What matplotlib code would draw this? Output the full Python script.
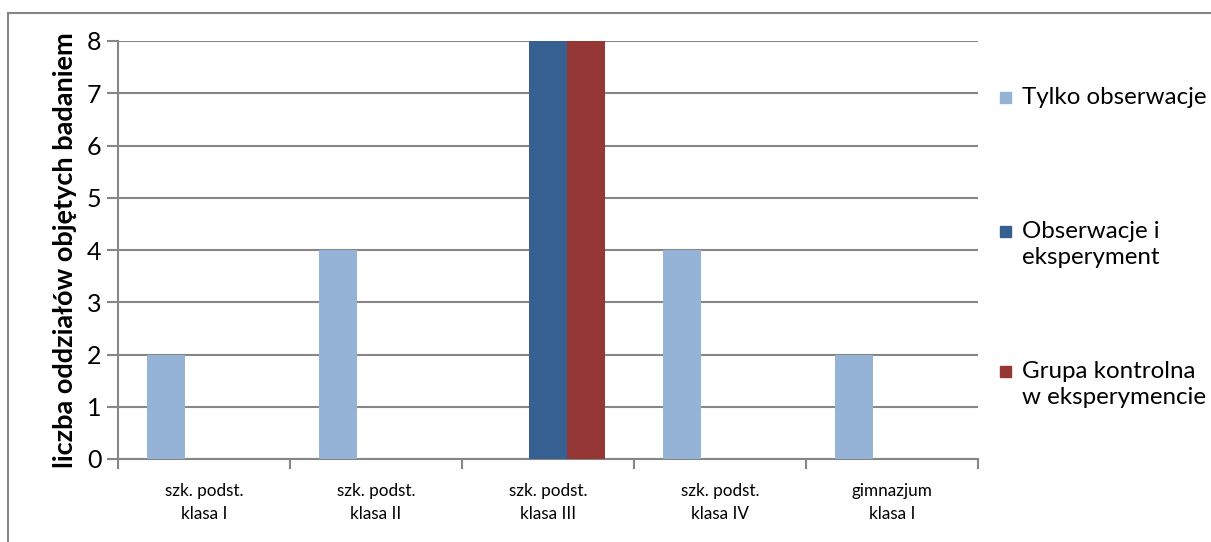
import numpy as np
import matplotlib.pyplot as plt
from matplotlib.lines import Line2D
from matplotlib.patches import Rectangle

categories = ["szk. podst.\nklasa I", "szk. podst.\nklasa II", "szk. podst.\nklasa III",
              "szk. podst.\nklasa IV", "gimnazjum\nklasa I"]
series_names = ["Tylko obserwacje", "Obserwacje i\neksperyment", "Grupa kontrolna\nw eksperymencie"]
tylko_obserwacje = [2, 4, 0, 4, 2]
obserwacje_eksperyment = [0, 0, 8, 0, 0]
grupa_kontrolna = [0, 0, 8, 0, 0]
colors = ["#95B3D7", "#376092", "#953735"]

plt.rcParams['font.family'] = ['Lato', 'DejaVu Sans']

W, H = 1211, 542
fig = plt.figure(figsize=(W / 100, H / 100), dpi=100)
ax = fig.add_axes([118 / W, 1 - 459 / H, (978 - 118) / W, (459 - 41) / H])

x = np.arange(len(categories))
width = 0.221
for i, vals in enumerate([tylko_obserwacje, obserwacje_eksperyment, grupa_kontrolna]):
    ax.bar(x + (i - 1) * width, vals, width, color=colors[i], zorder=3)

grid_c = "#868686"
ax.set_xlim(-0.5, len(categories) - 0.5)
ax.set_ylim(0, 8)
ax.set_yticks(range(0, 9))
ax.yaxis.grid(True, color=grid_c, linewidth=1.5, zorder=0)
ax.tick_params(axis='y', labelsize=18, length=8, width=1.5, color=grid_c, pad=4)
ax.set_xticks(x)
ax.set_xticklabels(categories, fontsize=12.3, linespacing=1.55)
ax.set_xticks(np.arange(-0.5, len(categories)), minor=True)
ax.tick_params(axis='x', which='major', length=0, pad=17)
ax.tick_params(axis='x', which='minor', length=7, width=1.5, color=grid_c)
for s in ['top', 'right']:
    ax.spines[s].set_visible(False)
for s in ['left', 'bottom']:
    ax.spines[s].set_color(grid_c)
    ax.spines[s].set_linewidth(1.5)
ax.set_ylabel("liczba oddziałów objętych badaniem", fontsize=19.5, fontweight='bold', labelpad=7)

# legend drawn by hand so the marker sits on the first text line
legend_y = [97, 231, 371]
for name, c, ly in zip(series_names, colors, legend_y):
    fig.add_artist(Rectangle((1000 / W, 1 - (ly + 6) / H), 11 / W, 11 / H,
                             transform=fig.transFigure, color=c))
    fig.text(1022 / W, 1 - (ly - 10) / H, name, fontsize=17.4, va='top', ha='left',
             linespacing=1.3)

# outer chart frame (left and top edges)
fig.add_artist(Line2D([8 / W, 8 / W], [0, 1 - 13 / H], color="#868686", lw=1.5,
                      transform=fig.transFigure))
fig.add_artist(Line2D([8 / W, 1], [1 - 13 / H, 1 - 13 / H], color="#868686", lw=1.5,
                      transform=fig.transFigure))

fig.savefig("out.png", dpi=100)
